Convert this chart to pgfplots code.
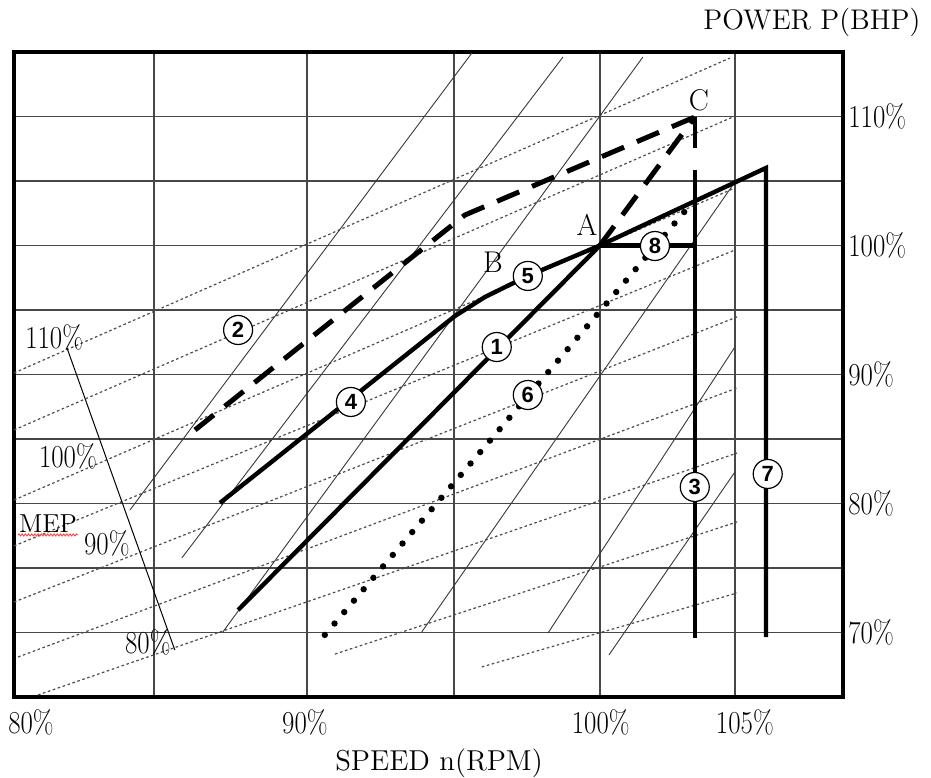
\documentclass[border=0pt]{standalone}
\usepackage{graphicx}
\usepackage{fontspec}
\usepackage{pgfplots}
\pgfplotsset{compat=1.18}
\usetikzlibrary{decorations.pathmorphing}
\newfontfamily\circfont{Liberation Sans}
\newcommand{\pl}[1]{{\fontsize{16}{18}\selectfont\scalebox{0.84}[1]{#1}}}
\tikzset{
  mep/.style={black!70, line width=0.6pt, dash pattern=on 1.3pt off 1.3pt},
  prop/.style={black!78, line width=0.45pt},
  thk/.style={black, line width=2.2pt},
  circ/.style={circle, draw=black, line width=0.6pt, fill=white, inner sep=0pt,
     minimum size=14.5pt, font={\circfont\bfseries\fontsize{11}{12}\selectfont}},
}
\begin{document}
\begin{tikzpicture}
\begin{axis}[
  scale only axis, width=414.5pt, height=322.5pt,
  xmin=80, xmax=108.3, ymin=65, ymax=115,
  clip=false,
  axis line style={line width=1.6pt},
  grid=major, major grid style={line width=0.7pt, black!72},
  major tick length=0pt,
  xtick={84.78,90,95.02,100,104.61}, xticklabels={},
  extra x ticks={80.58,89.93,100.03,104.95},
  extra x tick labels={\pl{80\%},\pl{90\%},\pl{100\%},\pl{105\%}},
  extra x tick style={grid=none, major tick length=0pt,
     xticklabel style={anchor=north, inner sep=0pt, yshift=-6pt}},
  ytick={70,75,80,85,90,95,100,105,110},
  yticklabels={\pl{70\%},,\pl{80\%},,\pl{90\%},,\pl{100\%},,\pl{110\%}},
  yticklabel pos=right,
  yticklabel style={anchor=west, inner sep=0pt, xshift=2.5pt},
]
% constant MEP lines (dotted)
\addplot[mep] coordinates {(80,90.12) (104.44,114.53)};
\addplot[mep] coordinates {(80,85.70) (104.54,109.96)};
\addplot[mep] coordinates {(80,80.27) (104.61,104.46)};
\addplot[mep] coordinates {(80,76.71) (104.61,99.65)};
\addplot[mep] coordinates {(80,72.36) (104.68,94.46)};
\addplot[mep] coordinates {(80.14,68.10) (104.68,88.95)};
\addplot[mep] coordinates {(80.82,65.16) (104.68,83.91)};
\addplot[mep] coordinates {(90.96,68.33) (104.68,78.57)};
\addplot[mep] coordinates {(95.97,67.33) (104.68,73.06)};
% steep thin lines
\addplot[prop] coordinates {(83.96,79.50) (95.63,114.92)};
\addplot[prop] coordinates {(85.73,75.78) (98.74,114.61)};
\addplot[prop] coordinates {(87.13,70.04) (101.47,114.61)};
\addplot[prop] coordinates {(93.92,70.04) (104.61,104.92)};
\addplot[prop] coordinates {(98.23,69.96) (104.61,92.13)};
\addplot[prop] coordinates {(100.31,68.26) (104.61,82.44)};
% MEP indicator
\addplot[black, line width=0.5pt] coordinates {(81.81,92.05) (85.49,68.64)};
% line 2 (dashed) and A-C dashed
\addplot[black, line width=2.5pt, dash pattern=on 12pt off 7pt] coordinates {(86.18,85.70) (95.39,102.36) (103.24,109.96)};
\addplot[black, line width=2.5pt, dash pattern=on 12pt off 7pt] coordinates {(100,100) (103.24,109.96)};
\addplot[black, line width=2.2pt] coordinates {(103.24,109.96) (103.24,107.56)};
% line 6 (dotted)
\addplot[black, line width=3.2pt, line cap=round, dash pattern=on 0pt off 7.5pt] coordinates {(90.61,69.81) (103.14,103.29)};
% line 1
\addplot[thk] coordinates {(87.65,71.74) (100,100)};
% lines 4, 5, 7
\addplot[thk] coordinates {(87.03,80.04) (95.05,94.53) (96.08,96.01) (97.54,97.64) (100,100) (105.67,106.01) (105.67,69.65)};
% line 8
\addplot[thk] coordinates {(100,100) (103.24,100)};
% line 3
\addplot[thk] coordinates {(103.24,105.85) (103.24,69.57)};
% MEP labels
\node at (axis cs:81.37,92.91) {\pl{110\%}};
\node at (axis cs:81.84,83.68) {\pl{100\%}};
\node at (axis cs:83.17,76.94) {\pl{90\%}};
\node at (axis cs:84.57,69.26) {\pl{80\%}};
\node[font=\fontsize{13}{15}\selectfont] at (axis cs:81.16,78.41) {MEP};
\draw[red!75, line width=0.45pt, decorate, decoration={zigzag, amplitude=0.5pt, segment length=1.6pt}] (axis cs:80.14,77.56) -- (axis cs:82.18,77.56);
% point labels
\node[font=\fontsize{15}{17}\selectfont] at (axis cs:99.56,101.59) {A};
\node[font=\fontsize{15}{17}\selectfont] at (axis cs:96.35,98.72) {B};
\node[font=\fontsize{15}{17}\selectfont] at (axis cs:103.38,111.28) {C};
% circled numbers
\node[circ] at (axis cs:96.48,92.13) {1};
\node[circ] at (axis cs:87.65,93.45) {2};
\node[circ] at (axis cs:103.24,81.28) {3};
\node[circ] at (axis cs:91.50,87.87) {4};
\node[circ] at (axis cs:97.54,97.64) {5};
\node[circ] at (axis cs:97.54,88.41) {6};
\node[circ] at (axis cs:105.73,82.29) {7};
\node[circ] at (axis cs:101.88,99.96) {8};
% axis titles
\node[font=\fontsize{14.2}{16}\selectfont] at (axis cs:107.24,117.33) {POWER P(BHP)};
\node[font=\fontsize{14.4}{16}\selectfont] at (axis cs:94.51,59.88) {SPEED n(RPM)};
\end{axis}
\pgfresetboundingbox
\path[use as bounding box] ([xshift=-7pt,yshift=-40.5pt]current axis.south west) rectangle ([xshift=44pt,yshift=26pt]current axis.north east);
\end{tikzpicture}
\end{document}
